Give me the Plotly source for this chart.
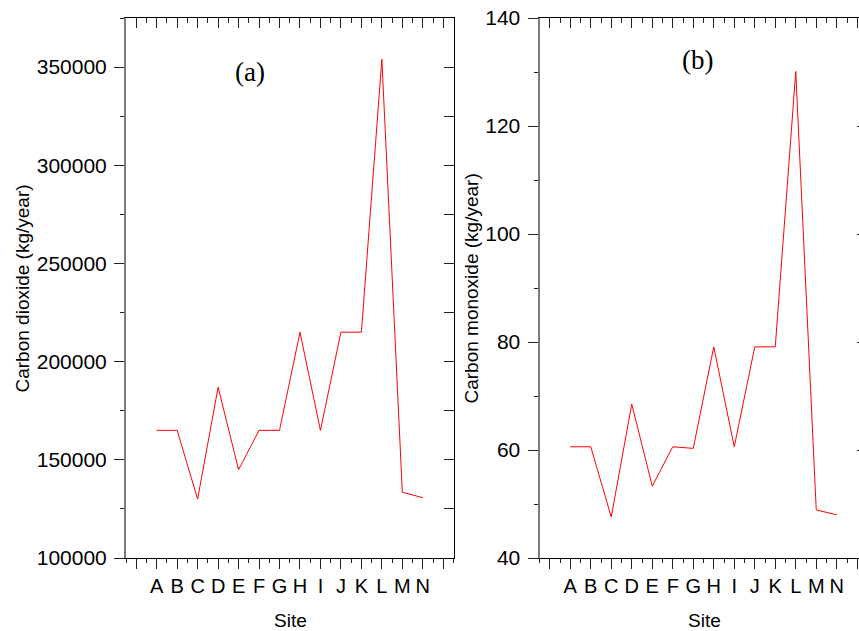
import plotly.graph_objects as go

# Emission estimates per sampling site
sites = ["A", "B", "C", "D", "E", "F", "G", "H", "I", "J", "K", "L", "M", "N"]
co2 = [165000, 165000, 130000, 187000, 145000, 165000, 165000, 215000,
       165000, 215000, 215000, 354000, 133500, 130700]
co = [60.6, 60.6, 47.6, 68.5, 53.3, 60.6, 60.3, 79.1,
      60.6, 79.1, 79.1, 130.1, 48.9, 48.0]

W, H = 859, 631
pos = list(range(len(sites)))
major_vals = [-1] + pos + [14]
major_text = [""] + sites + [""]

FONT = "Liberation Sans, Arial, sans-serif"
AX = "#222222"
LEFT_LINE = "#7a7a7a"

ydom = [(H - 558) / H, (H - 18) / H]
xdom_a = [126 / W, 453.5 / W]
xdom_b = [539.5 / W, 1.0]
xr_a = [-1.5, 14.5]
xr_b = [-1.5, 14.085]

fig = go.Figure()
# visible series
fig.add_trace(go.Scatter(x=pos, y=co2, mode="lines", line=dict(color="#ff0000", width=1),
                         xaxis="x", yaxis="y", showlegend=False))
fig.add_trace(go.Scatter(x=pos, y=co, mode="lines", line=dict(color="#ff0000", width=1),
                         xaxis="x2", yaxis="y2", showlegend=False))
# transparent copies so the top/right frame axes get rendered
fig.add_trace(go.Scatter(x=pos, y=co2, mode="lines", line=dict(color="rgba(0,0,0,0)", width=0),
                         xaxis="x3", yaxis="y3", showlegend=False, hoverinfo="skip"))
fig.add_trace(go.Scatter(x=pos, y=co, mode="lines", line=dict(color="rgba(0,0,0,0)", width=0),
                         xaxis="x4", yaxis="y4", showlegend=False, hoverinfo="skip"))


def bottom_axis(dom, rng, anchor):
    return dict(domain=dom, range=rng, anchor=anchor, automargin=False, tickmode="array",
                tickvals=major_vals, ticktext=major_text, ticks="outside", ticklen=10,
                tickwidth=1, tickcolor=AX, showline=True, linecolor="black", linewidth=1,
                showgrid=False, zeroline=False, ticklabelstandoff=0,
                tickfont=dict(family=FONT, size=20, color="black"),
                minor=dict(tickmode="linear", tick0=0, dtick=0.5, ticks="outside",
                           ticklen=4, tickcolor=AX, showgrid=False))


def top_axis(dom, rng, over, anchor):
    return dict(domain=dom, overlaying=over, side="top", anchor=anchor, range=rng,
                automargin=False, tickmode="array", tickvals=major_vals, ticks="inside",
                ticklen=10, tickcolor=AX, showticklabels=False, showline=True,
                linecolor="black", linewidth=1, showgrid=False, zeroline=False,
                minor=dict(tickmode="linear", tick0=0, dtick=0.5, ticks="inside",
                           ticklen=5, tickcolor=AX, showgrid=False))


def left_axis(rng, dtick, minor, anchor):
    return dict(domain=ydom, range=rng, anchor=anchor, automargin=False, tickmode="linear",
                tick0=0, dtick=dtick, tickformat="d", ticks="outside", ticklen=10,
                tickcolor=AX, showline=True, linecolor=LEFT_LINE, linewidth=2,
                showgrid=False, zeroline=False, ticklabelstandoff=3,
                tickfont=dict(family=FONT, size=21, color="black"),
                minor=dict(tickmode="linear", tick0=0, dtick=minor, ticks="outside",
                           ticklen=4, tickcolor=AX, showgrid=False))


def right_axis(rng, dtick, over, anchor, showline, ticklen):
    return dict(domain=ydom, overlaying=over, side="right", anchor=anchor, range=rng,
                automargin=False, tickmode="linear", tick0=0, dtick=dtick,
                ticks="inside", ticklen=ticklen, tickcolor=AX, showticklabels=False,
                showline=showline, linecolor="black", linewidth=1,
                showgrid=False, zeroline=False)


fig.update_layout(
    width=W, height=H,
    margin=dict(l=0, r=0, t=0, b=0, autoexpand=False),
    paper_bgcolor="white", plot_bgcolor="white",
    showlegend=False,
    xaxis=bottom_axis(xdom_a, xr_a, "y"),
    yaxis=left_axis([100000, 375000], 50000, 25000, "x"),
    xaxis2=bottom_axis(xdom_b, xr_b, "y2"),
    yaxis2=left_axis([40, 140], 20, 10, "x2"),
    xaxis3=top_axis(xdom_a, xr_a, "x", "y3"),
    yaxis3=right_axis([100000, 375000], 25000, "y", "x3", True, 10),
    xaxis4=top_axis(xdom_b, xr_b, "x2", "y4"),
    yaxis4=right_axis([40, 140], 20, "y2", "x4", False, 2),
)

annots = [
    dict(text="Carbon dioxide (kg/year)", x=22 / W, y=1 - 288.5 / H, textangle=-90,
         font=dict(family=FONT, size=19, color="black")),
    dict(text="Carbon monoxide (kg/year)", x=471 / W, y=1 - 288.5 / H, textangle=-90,
         font=dict(family=FONT, size=19, color="black")),
    dict(text="Site", x=290 / W, y=1 - 620 / H,
         font=dict(family=FONT, size=19, color="black")),
    dict(text="Site", x=704 / W, y=1 - 620 / H,
         font=dict(family=FONT, size=19, color="black")),
    dict(text="(a)", x=250 / W, y=1 - 72.5 / H,
         font=dict(family="Liberation Serif, Times New Roman, serif", size=27, color="black")),
    dict(text="(b)", x=697 / W, y=1 - 60 / H,
         font=dict(family="Liberation Serif, Times New Roman, serif", size=27, color="black")),
]
for a in annots:
    a.update(xref="paper", yref="paper", showarrow=False, xanchor="center", yanchor="middle")
fig.update_layout(annotations=annots)

fig.write_html("out.html")
